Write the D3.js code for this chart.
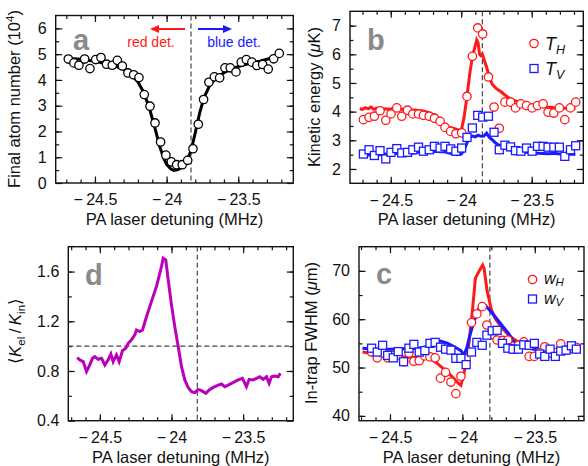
<!DOCTYPE html>
<html><head><meta charset="utf-8">
<script src="https://cdn.jsdelivr.net/npm/d3@7"></script>
<style>body{margin:0;background:#fff}svg{display:block}</style>
</head><body>
<script>
// ---------------- DATA ----------------
// Panel a: final atom number (1e4)
const aX = [-24.686,-24.647,-24.612,-24.572,-24.535,-24.495,-24.458,-24.419,-24.379,-24.344,-24.309,-24.270,-24.230,-24.193,-24.156,-24.116,-24.081,-24.042,-24.005,-23.967,-23.930,-23.891,-23.853,-23.816,-23.779,-23.742,-23.705,-23.667,-23.630,-23.593,-23.556,-23.516,-23.479,-23.444,-23.405,-23.370,-23.330,-23.291,-23.253,-23.214];
const aY = [4.81,4.66,4.57,4.81,4.44,4.79,4.87,4.61,4.57,4.76,4.54,4.27,4.20,4.09,3.43,2.98,2.33,1.59,1.08,0.82,0.71,0.71,0.88,1.33,2.28,3.24,3.91,4.12,4.08,4.47,4.47,4.31,4.69,4.79,4.69,4.56,4.60,4.42,4.82,5.03];
const aFitX = [-24.70,-24.60,-24.50,-24.40,-24.35,-24.30,-24.25,-24.20,-24.16,-24.12,-24.08,-24.05,-24.02,-24.00,-23.97,-23.95,-23.92,-23.89,-23.86,-23.83,-23.80,-23.77,-23.74,-23.70,-23.66,-23.60,-23.55,-23.50,-23.45,-23.40,-23.35,-23.30,-23.25,-23.21];
const aFitY = [4.84,4.80,4.72,4.60,4.52,4.41,4.22,3.92,3.52,2.90,2.10,1.45,0.95,0.72,0.54,0.49,0.52,0.63,0.85,1.25,1.95,2.70,3.30,3.78,4.05,4.28,4.42,4.52,4.60,4.67,4.73,4.80,4.88,4.97];

// Panel b: kinetic energy (uK)
const bX = [-24.694,-24.654,-24.616,-24.576,-24.535,-24.498,-24.457,-24.422,-24.381,-24.343,-24.303,-24.268,-24.227,-24.190,-24.150,-24.115,-24.075,-24.038,-23.997,-23.959,-23.921,-23.883,-23.848,-23.807,-23.767,-23.730,-23.690,-23.650,-23.615,-23.577,-23.537,-23.497,-23.459,-23.419,-23.384,-23.343,-23.304,-23.265,-23.225,-23.188];
const bTH = [3.72,3.80,3.84,4.03,3.70,3.92,4.13,3.84,4.05,3.92,3.92,3.87,3.84,3.77,3.66,3.45,3.31,3.23,3.26,4.53,5.93,6.92,6.71,5.21,4.16,3.42,4.33,4.33,4.13,4.27,4.21,4.13,4.21,4.27,3.98,3.95,4.13,3.72,4.13,4.33];
const bTV = [2.52,2.67,2.47,2.64,2.35,2.58,2.71,2.56,2.58,2.67,2.76,2.62,2.67,2.79,2.73,2.79,2.70,2.62,2.73,3.10,3.43,3.87,3.81,3.84,3.28,2.67,2.83,2.77,2.64,2.62,2.73,2.62,2.79,2.79,2.76,2.76,2.76,2.44,2.67,2.81];
const bFitHX = [-24.72,-24.70,-24.68,-24.66,-24.64,-24.62,-24.60,-24.57,-24.54,-24.51,-24.48,-24.45,-24.42,-24.39,-24.36,-24.33,-24.30,-24.27,-24.24,-24.21,-24.18,-24.15,-24.12,-24.09,-24.06,-24.03,-24.00,-23.98,-23.96,-23.94,-23.92,-23.90,-23.89,-23.88,-23.87,-23.86,-23.85,-23.84,-23.82,-23.80,-23.78,-23.75,-23.72,-23.69,-23.66,-23.63,-23.60,-23.57,-23.54,-23.51,-23.48,-23.45,-23.42,-23.39,-23.36,-23.33,-23.30,-23.27,-23.24,-23.21,-23.19];
const bFitHY = [4.10,4.08,4.14,4.10,4.16,4.08,4.12,4.06,4.10,4.08,4.12,4.14,4.08,4.10,4.06,4.06,4.04,4.02,3.98,3.92,3.88,3.70,3.55,3.46,3.42,3.38,3.33,3.80,4.50,5.30,5.95,6.30,6.50,6.40,6.00,5.95,6.00,5.85,5.55,5.20,4.95,4.80,4.70,4.58,4.48,4.40,4.35,4.30,4.26,4.22,4.20,4.22,4.18,4.16,4.15,4.12,4.14,4.12,4.12,4.10,4.10];
const bFitVX = [-24.72,-24.69,-24.66,-24.63,-24.60,-24.57,-24.54,-24.51,-24.48,-24.45,-24.42,-24.39,-24.36,-24.33,-24.30,-24.27,-24.24,-24.21,-24.18,-24.15,-24.12,-24.09,-24.06,-24.03,-24.00,-23.98,-23.96,-23.94,-23.92,-23.90,-23.88,-23.86,-23.84,-23.82,-23.80,-23.78,-23.76,-23.74,-23.71,-23.68,-23.65,-23.62,-23.58,-23.54,-23.50,-23.46,-23.42,-23.38,-23.34,-23.30,-23.26,-23.22,-23.19];
const bFitVY = [2.50,2.52,2.48,2.53,2.48,2.50,2.52,2.50,2.53,2.55,2.56,2.56,2.55,2.56,2.60,2.57,2.60,2.58,2.62,2.60,2.60,2.56,2.52,2.50,2.52,2.65,2.90,3.10,3.15,3.12,3.18,3.14,3.15,3.25,3.10,3.02,2.92,2.85,2.78,2.72,2.66,2.62,2.60,2.58,2.56,2.55,2.54,2.53,2.55,2.52,2.50,2.52,2.50];

// Panel d: <K_el/K_in>
const dX = [-24.658,-24.640,-24.616,-24.593,-24.574,-24.551,-24.535,-24.512,-24.488,-24.465,-24.442,-24.423,-24.407,-24.384,-24.365,-24.342,-24.319,-24.302,-24.279,-24.256,-24.244,-24.221,-24.202,-24.174,-24.140,-24.105,-24.070,-24.058,-24.040,-24.023,-24.000,-23.977,-23.953,-23.930,-23.907,-23.884,-23.860,-23.837,-23.814,-23.791,-23.760,-23.737,-23.709,-23.674,-23.651,-23.628,-23.605,-23.581,-23.558,-23.535,-23.505,-23.477,-23.458,-23.430,-23.407,-23.384,-23.360,-23.337,-23.319,-23.302,-23.279,-23.256,-23.240];
const dY = [0.907,0.889,0.875,0.795,0.840,0.902,0.915,0.894,0.902,0.848,0.889,0.937,0.875,0.929,0.875,0.964,0.983,1.023,1.050,1.090,1.130,1.117,1.130,1.238,1.358,1.479,1.640,1.707,1.694,1.533,1.332,1.157,0.996,0.835,0.728,0.668,0.634,0.626,0.652,0.642,0.620,0.647,0.668,0.687,0.695,0.674,0.687,0.701,0.714,0.728,0.741,0.674,0.733,0.728,0.741,0.754,0.733,0.754,0.701,0.754,0.760,0.754,0.781];

// Panel c: in-trap FWHM (um)
const cX = [-24.627,-24.588,-24.551,-24.516,-24.477,-24.443,-24.406,-24.369,-24.335,-24.298,-24.259,-24.224,-24.188,-24.151,-24.116,-24.079,-24.045,-24.010,-23.974,-23.937,-23.900,-23.863,-23.831,-23.794,-23.760,-23.723,-23.686,-23.650,-23.613,-23.576,-23.539,-23.503,-23.466,-23.431,-23.394,-23.358,-23.321,-23.284,-23.247,-23.213];
const cWH = [53.2,52.0,53.0,52.0,52.5,52.6,51.2,53.0,51.3,51.4,52.4,52.2,52.0,47.8,49.0,47.0,44.6,48.2,51.8,59.3,61.1,62.6,58.8,56.8,55.7,55.6,55.7,53.8,54.6,55.3,52.3,52.3,53.1,54.3,53.0,53.1,54.9,53.6,54.0,54.2];
const cWV = [54.0,53.2,54.6,52.5,52.0,53.3,51.2,54.0,54.8,53.2,53.5,55.0,55.2,54.2,53.8,53.6,51.9,51.9,50.6,53.2,55.2,54.6,56.7,57.6,57.7,55.0,54.0,53.8,53.8,54.7,54.6,55.0,52.8,52.3,53.8,52.3,53.4,53.6,54.5,53.8];
const cFitHX = [-24.69,-24.60,-24.50,-24.40,-24.30,-24.22,-24.18,-24.14,-24.10,-24.06,-24.03,-24.01,-23.99,-23.96,-23.93,-23.91,-23.88,-23.86,-23.85,-23.83,-23.80,-23.77,-23.73,-23.69,-23.65,-23.60,-23.55,-23.50,-23.45,-23.40,-23.30,-23.21];
const cFitHY = [53.2,52.8,52.4,52.2,52.0,51.8,51.0,50.0,49.0,47.8,46.8,46.3,48.5,53.5,62.0,68.5,70.2,71.2,70.5,66.0,62.0,60.0,58.3,57.0,56.0,55.0,54.3,53.8,53.5,53.3,53.2,53.2];
const cFitVX = [-24.69,-24.60,-24.50,-24.40,-24.30,-24.25,-24.20,-24.15,-24.10,-24.05,-24.01,-23.99,-23.97,-23.95,-23.92,-23.89,-23.87,-23.84,-23.80,-23.76,-23.72,-23.68,-23.65,-23.60,-23.55,-23.50,-23.40,-23.30,-23.21];
const cFitVY = [54.0,53.8,53.8,53.9,54.0,54.3,55.2,55.5,55.0,54.2,53.5,52.6,54.0,56.5,59.5,62.0,63.0,62.8,61.5,60.0,58.5,57.0,55.5,54.5,54.0,53.8,53.5,53.5,53.4];

const xTickLabels = [-24.5, -24, -23.5];
const resonance = -23.83;

// ---------------- DRAWING ----------------
const W = 588, H = 466;
const FONT = "'Liberation Sans', Arial, Helvetica, sans-serif";
const RED = "#ff1a1a", BLUE = "#1a1aff", MAG = "#bb00bb", GRAY = "#8a8a8a";
const TICK_FS = 16, TITLE_FS = 16.5;
const svg = d3.select("body").append("svg").attr("width", W).attr("height", H)
  .style("font-family", FONT);

const fmt = v => (v < 0 ? "\u2212\u2009" : "") + Math.abs(v);
const range = (a, b, s) => d3.range(Math.round(a / s), Math.round(b / s) + 1).map(k => +(k * s).toFixed(6));

function panel(p) {
  const x = d3.scaleLinear().domain(p.xDom).range([p.l, p.r]);
  const y = d3.scaleLinear().domain(p.yDom).range([p.b, p.t]);
  const g = svg.append("g");
  const xMinor = range(-24.8, -23.1, 0.1).filter(v => v > p.xDom[0] && v < p.xDom[1]);
  const yMinor = range(p.yDom[0], p.yDom[1], p.yMinorStep).filter(v => v > p.yDom[0] + 1e-6 && v < p.yDom[1] - 1e-6);
  const axes = [
    [d3.axisBottom(x), p.b, 0, true, "x"], [d3.axisTop(x), p.t, 0, false, "x"],
    [d3.axisLeft(y), 0, p.l, true, "y"], [d3.axisRight(y), 0, p.r, false, "y"]];
  axes.forEach(([ax, ty, tx, lab, dir]) => {
    const major = dir === "x" ? xTickLabels : p.yTicks;
    const minor = dir === "x" ? xMinor : yMinor;
    const gm = g.append("g").attr("transform", `translate(${tx},${ty})`)
      .call(ax.scale(dir === "x" ? x : y).tickValues(minor).tickSize(-3.5).tickFormat(""));
    gm.select(".domain").remove();
    const gM = g.append("g").attr("transform", `translate(${tx},${ty})`)
      .call(ax.scale(dir === "x" ? x : y).tickValues(major).tickSize(-6.5).tickPadding(dir === "x" ? 11 : 9)
        .tickFormat(lab ? (dir === "x" ? fmt : p.yFmt) : ""));
    gM.select(".domain").remove();
    [gm, gM].forEach(s => { s.selectAll("line").attr("stroke", "#111").attr("stroke-width", 1.2);
      s.selectAll("text").attr("font-size", TICK_FS).attr("fill", "#111").attr("font-family", FONT); });
  });
  g.append("rect").attr("x", p.l).attr("y", p.t).attr("width", p.r - p.l).attr("height", p.b - p.t)
    .attr("fill", "none").attr("stroke", "#111").attr("stroke-width", 1.4);
  g.append("line").attr("x1", x(p.mark)).attr("x2", x(p.mark)).attr("y1", p.t).attr("y2", p.b)
    .attr("stroke", "#444").attr("stroke-width", 1.2).attr("stroke-dasharray", "5,3");
  g.append("text").attr("x", p.letterX).attr("y", p.letterY).text(p.letter)
    .attr("font-size", 29).attr("font-weight", "bold").attr("fill", GRAY);
  g.append("text").attr("x", (p.l + p.r) / 2).attr("y", p.b + 42).attr("text-anchor", "middle")
    .attr("font-size", TITLE_FS).attr("fill", "#111").text("PA laser detuning (MHz)");
  return { x, y, g };
}

const line = (xs, ys, sx, sy) => d3.line().x((d, i) => sx(xs[i])).y((d, i) => sy(ys[i]))(xs);

function circles(g, xs, ys, sx, sy, color) {
  g.append("g").selectAll("circle").data(xs).join("circle")
    .attr("cx", (d, i) => sx(xs[i])).attr("cy", (d, i) => sy(ys[i])).attr("r", 4.2)
    .attr("fill", "#fff").attr("stroke", color).attr("stroke-width", 1.3);
}
function squares(g, xs, ys, sx, sy, color) {
  g.append("g").selectAll("rect").data(xs).join("rect")
    .attr("x", (d, i) => sx(xs[i]) - 4).attr("y", (d, i) => sy(ys[i]) - 4).attr("width", 8).attr("height", 8)
    .attr("fill", "#fff").attr("stroke", color).attr("stroke-width", 1.3);
}
function yTitle(cx, cy, parts) {
  const t = svg.append("text").attr("transform", `translate(${cx},${cy}) rotate(-90)`)
    .attr("text-anchor", "middle").attr("font-size", TITLE_FS).attr("fill", "#111");
  parts.forEach(pp => {
    const s = t.append("tspan").text(pp.t);
    if (pp.i) s.attr("font-style", "italic");
    if (pp.sub) s.attr("font-size", 11.5).attr("dy", pp.sub);
    if (pp.fs) s.attr("font-size", pp.fs);
  });
  return t;
}

// ---- Panel a ----
{
  const p = { l: 55.7, r: 293.3, t: 15.5, b: 183, xDom: [-24.774, -23.116], yDom: [0, 6.5],
    yTicks: [0, 1, 2, 3, 4, 5, 6], yMinorStep: 0.5, yFmt: d3.format("d"), mark: resonance,
    letter: "a", letterX: 73, letterY: 50 };
  const { x, y, g } = panel(p);
  g.append("path").attr("d", line(aFitX, aFitY, x, y)).attr("fill", "none").attr("stroke", "#000").attr("stroke-width", 3);
  circles(g, aX, aY, x, y, "#000");
  const arrow = (x1, x2, yy, c) => {
    g.append("line").attr("x1", x1).attr("x2", x2 + (x2 > x1 ? -7 : 7)).attr("y1", yy).attr("y2", yy).attr("stroke", c).attr("stroke-width", 2);
    const d = x2 > x1 ? -1 : 1;
    g.append("path").attr("d", `M${x2},${yy} L${x2 + d * 9},${yy - 4} L${x2 + d * 9},${yy + 4} Z`).attr("fill", c);
  };
  arrow(185, 150, 29, RED);
  arrow(198, 232, 29, BLUE);
  g.append("text").attr("x", 151).attr("y", 47).attr("text-anchor", "middle").attr("font-size", 14).attr("fill", RED).text("red det.");
  g.append("text").attr("x", 234).attr("y", 47).attr("text-anchor", "middle").attr("font-size", 14).attr("fill", BLUE).text("blue det.");
  yTitle(20, 99, [{ t: "Final atom number (10" }, { t: "4", sub: -6 }, { t: ")", sub: 6, fs: TITLE_FS }]);
}

// ---- Panel b ----
{
  const p = { l: 350, r: 583.3, t: 11.3, b: 183.3, xDom: [-24.789, -23.134], yDom: [1.5, 7.5],
    yTicks: [2, 3, 4, 5, 6, 7], yMinorStep: 0.5, yFmt: d3.format("d"), mark: -23.85,
    letter: "b", letterX: 367, letterY: 50 };
  const { x, y, g } = panel(p);
  g.append("path").attr("d", line(bFitHX, bFitHY, x, y)).attr("fill", "none").attr("stroke", RED).attr("stroke-width", 3);
  g.append("path").attr("d", line(bFitVX, bFitVY, x, y)).attr("fill", "none").attr("stroke", BLUE).attr("stroke-width", 3);
  circles(g, bX, bTH, x, y, RED);
  squares(g, bX, bTV, x, y, BLUE);
  g.append("circle").attr("cx", 534).attr("cy", 43.5).attr("r", 4.2).attr("fill", "#fff").attr("stroke", RED).attr("stroke-width", 1.3);
  g.append("rect").attr("x", 530).attr("y", 64.5).attr("width", 8).attr("height", 8).attr("fill", "#fff").attr("stroke", BLUE).attr("stroke-width", 1.3);
  const leg = (yy, sub) => { const t = g.append("text").attr("x", 545).attr("y", yy).attr("font-size", 18).attr("font-style", "italic").attr("fill", "#111");
    t.append("tspan").text("T"); t.append("tspan").text(sub).attr("font-size", 12.5).attr("dy", 4); };
  leg(50, "H"); leg(75, "V");
  yTitle(320, 97, [{ t: "Kinetic energy (" }, { t: "\u03bc", i: true }, { t: "K)" }]);
}

// ---- Panel d ----
{
  const p = { l: 68.3, r: 293.3, t: 246.7, b: 420.7, xDom: [-24.72, -23.15], yDom: [0.4, 1.8],
    yTicks: [0.4, 0.8, 1.2, 1.6], yMinorStep: 0.2, yFmt: d3.format(".1f"), mark: -23.82,
    letter: "d", letterX: 85, letterY: 285 };
  const { x, y, g } = panel(p);
  g.append("line").attr("x1", p.l).attr("x2", p.r).attr("y1", y(1)).attr("y2", y(1))
    .attr("stroke", "#444").attr("stroke-width", 1.2).attr("stroke-dasharray", "5,3");
  g.append("path").attr("d", line(dX, dY, x, y)).attr("fill", "none").attr("stroke", MAG).attr("stroke-width", 3);
  const t = svg.append("text").attr("transform", `translate(21,331) rotate(-90)`).attr("text-anchor", "middle").attr("font-size", 17).attr("fill", "#111");
  t.append("tspan").text("\u27e8");
  t.append("tspan").text("K").attr("font-style", "italic");
  t.append("tspan").text("el").attr("font-size", 11.5).attr("dy", 4);
  t.append("tspan").text("\u2009/\u2009").attr("dy", -4);
  t.append("tspan").text("K").attr("font-style", "italic");
  t.append("tspan").text("in").attr("font-size", 11.5).attr("dy", 4);
  t.append("tspan").text("\u27e9").attr("dy", -4);
}

// ---- Panel c ----
{
  const p = { l: 359, r: 584, t: 246.7, b: 420.7, xDom: [-24.714, -23.16], yDom: [39, 75],
    yTicks: [40, 50, 60, 70], yMinorStep: 5, yFmt: d3.format("d"), mark: -23.81,
    letter: "c", letterX: 376, letterY: 283.5 };
  const { x, y, g } = panel(p);
  g.append("path").attr("d", line(cFitHX, cFitHY, x, y)).attr("fill", "none").attr("stroke", RED).attr("stroke-width", 3);
  g.append("path").attr("d", line(cFitVX, cFitVY, x, y)).attr("fill", "none").attr("stroke", BLUE).attr("stroke-width", 3);
  circles(g, cX, cWH, x, y, RED);
  squares(g, cX, cWV, x, y, BLUE);
  g.append("circle").attr("cx", 532.5).attr("cy", 279.5).attr("r", 4.2).attr("fill", "#fff").attr("stroke", RED).attr("stroke-width", 1.3);
  g.append("rect").attr("x", 528.5).attr("y", 295).attr("width", 8).attr("height", 8).attr("fill", "#fff").attr("stroke", BLUE).attr("stroke-width", 1.3);
  const leg = (yy, sub) => { const t = g.append("text").attr("x", 544).attr("y", yy).attr("font-size", 16).attr("font-style", "italic").attr("fill", "#111");
    t.append("tspan").text("w"); t.append("tspan").text(sub).attr("font-size", 11.5).attr("dy", 2.5); };
  leg(283.5, "H"); leg(303.5, "V");
  yTitle(317, 333, [{ t: "In-trap FWHM (" }, { t: "\u03bc", i: true }, { t: "m)" }]);
}
</script>
</body></html>
